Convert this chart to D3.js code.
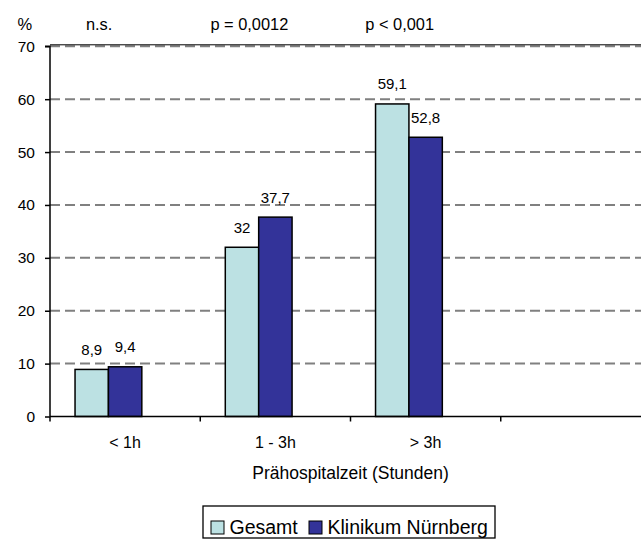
<!DOCTYPE html>
<html>
<head>
<meta charset="utf-8">
<script src="https://cdn.jsdelivr.net/npm/d3@7"></script>
<style>
  html, body { margin: 0; padding: 0; background: #fff; }
  svg { display: block; font-family: "Liberation Sans", Arial, sans-serif; }
</style>
</head>
<body>
<svg id="chart" width="641" height="540"></svg>
<script>
// Time from symptom onset to hospital, share of patients (%)
const categories = ["< 1h", "1 - 3h", "> 3h", ""];
const seriesNames = ["Gesamt", "Klinikum Nürnberg"];
const gesamt = [8.9, 32, 59.1, null];
const klinikum = [9.4, 37.7, 52.8, null];
const pLabels = ["n.s.", "p = 0,0012", "p < 0,001"];
const yTicks = [0, 10, 20, 30, 40, 50, 60, 70];
const colors = ["#bce1e3", "#333399"];

const FONT = "Liberation Sans, Arial, sans-serif";
const svg = d3.select("#chart");
const plotL = 50, plotR = 651, plotT = 46.3, plotB = 416.5;

const x0 = d3.scaleBand().domain(categories).range([plotL, plotR]).padding(0);
const bw = x0.bandwidth();
// each group holds the bars plus a 150% gap
const x1 = d3.scaleBand().domain(seriesNames).range([bw / 6, bw / 6 + bw * 4 / 9]).padding(0);
const y = d3.scaleLinear().domain([0, 70]).range([plotB, plotT]);

const fmt = v => String(v).replace(".", ",");

// dashed gridlines
svg.append("g")
  .selectAll("line")
  .data(yTicks.filter(t => t > 0))
  .join("line")
  .attr("x1", plotL).attr("x2", 641)
  .attr("y1", d => y(d)).attr("y2", d => y(d))
  .attr("stroke", "#808080")
  .attr("stroke-width", 2)
  .attr("stroke-dasharray", "10,5");

// top edge of plot area
svg.append("line")
  .attr("x1", plotL).attr("x2", 641)
  .attr("y1", y(70) - 1.5).attr("y2", y(70) - 1.5)
  .attr("stroke", "#000").attr("stroke-width", 1);

// bars
const rows = categories.map((c, i) => ({ cat: c, values: [gesamt[i], klinikum[i]] }));
const groups = svg.append("g").selectAll("g")
  .data(rows)
  .join("g")
  .attr("transform", d => `translate(${x0(d.cat)},0)`);

const cells = d => d.values.map((v, j) => ({ key: seriesNames[j], v, j })).filter(e => e.v != null);

groups.selectAll("rect")
  .data(cells)
  .join("rect")
  .attr("x", d => x1(d.key))
  .attr("width", x1.bandwidth())
  .attr("y", d => y(d.v))
  .attr("height", d => y(0) - y(d.v))
  .attr("fill", d => colors[d.j])
  .attr("stroke", "#000")
  .attr("stroke-width", 1.5);

groups.selectAll("text")
  .data(cells)
  .join("text")
  .attr("x", d => x1(d.key) + x1.bandwidth() / 2)
  .attr("y", d => y(d.v) - 14.5)
  .attr("text-anchor", "middle")
  .attr("font-size", 15)
  .attr("fill", "#000")
  .text(d => fmt(d.v));

// y axis
const yAxis = svg.append("g")
  .attr("transform", `translate(${plotL},0)`)
  .call(d3.axisLeft(y).tickValues(yTicks).tickSize(5).tickPadding(10).tickFormat(d3.format("d")));
yAxis.select(".domain").attr("stroke", "#000").attr("stroke-width", 1.5).attr("d", `M-5,${y(70)}H0V${y(0)}`);
yAxis.selectAll(".tick line").attr("stroke", "#000").attr("stroke-width", 1.5);
yAxis.selectAll(".tick text").attr("font-size", 15.5).attr("fill", "#000").attr("font-family", FONT);

// x axis
const xAxis = svg.append("g")
  .attr("transform", `translate(0,${plotB})`)
  .call(d3.axisBottom(x0).tickSize(0).tickPadding(20));
xAxis.select(".domain").attr("stroke", "#000").attr("stroke-width", 1.5).attr("d", `M${plotL},0H641`);
xAxis.selectAll(".tick text").attr("font-size", 16).attr("fill", "#000").attr("font-family", FONT);
// tick marks between categories
svg.append("g").selectAll("line")
  .data(categories)
  .join("line")
  .attr("x1", d => x0(d)).attr("x2", d => x0(d))
  .attr("y1", plotB).attr("y2", plotB + 5)
  .attr("stroke", "#000").attr("stroke-width", 1.5);

// axis title
svg.append("text")
  .attr("x", (plotL + plotR) / 2).attr("y", 479)
  .attr("text-anchor", "middle").attr("font-size", 17.5)
  .text("Prähospitalzeit (Stunden)");

// unit label
svg.append("text").attr("x", 17.5).attr("y", 30).attr("font-size", 16.5).text("%");

// significance labels above each group
svg.append("g").selectAll("text")
  .data(pLabels)
  .join("text")
  .attr("x", (d, i) => x0(categories[i]) + bw / 2 - 26)
  .attr("y", 29.5)
  .attr("text-anchor", "middle")
  .attr("font-size", 16.4)
  .text(d => d);

// legend
const lg = svg.append("g");
lg.append("rect").attr("x", 203).attr("y", 506).attr("width", 292).attr("height", 32)
  .attr("fill", "#fff").attr("stroke", "#000").attr("stroke-width", 1.3);
const legendX = [211, 309];
const items = lg.selectAll("g.item")
  .data(seriesNames)
  .join("g")
  .attr("class", "item")
  .attr("transform", (d, i) => `translate(${legendX[i]},0)`);
items.append("rect").attr("x", 0).attr("y", 521).attr("width", 13).attr("height", 13)
  .attr("fill", (d, i) => colors[i]).attr("stroke", "#000").attr("stroke-width", 1);
items.append("text").attr("x", 18.5).attr("y", 533.5).attr("font-size", 19.5).text(d => d);
</script>
</body>
</html>
